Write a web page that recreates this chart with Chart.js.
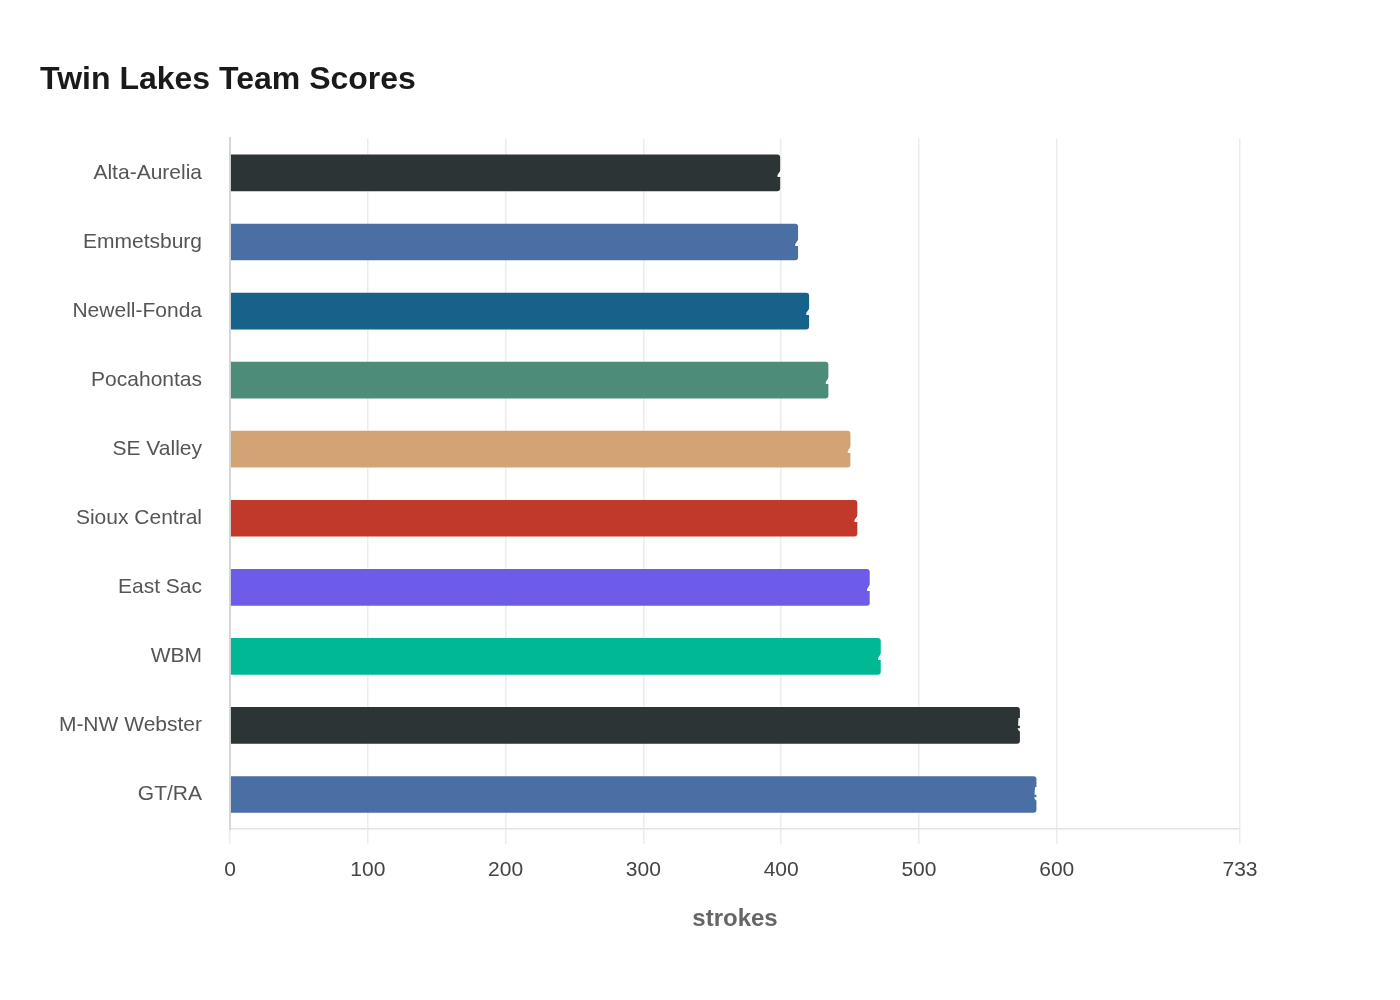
<!DOCTYPE html>
<html>
<head>
<meta charset="utf-8">
<script src="https://cdn.jsdelivr.net/npm/chart.js@4/dist/chart.umd.min.js"></script>
<style>
  html, body { margin: 0; padding: 0; background: #fff; }
  #wrap { width: 1400px; height: 1000px; }
</style>
</head>
<body>
<div id="wrap"><canvas id="scoreChart"></canvas></div>
<script>
// team names, top to bottom
const teams = ['Alta-Aurelia', 'Emmetsburg', 'Newell-Fonda', 'Pocahontas', 'SE Valley',
  'Sioux Central', 'East Sac', 'WBM', 'M-NW Webster', 'GT/RA'];
// total strokes per team
const strokes = [400, 413, 421, 435, 451, 456, 465, 473, 574, 586];
// bar colours
const barColors = ['#2d3436', '#4a6fa5', '#17628a', '#4e8c7a', '#d4a373',
  '#c0392b', '#6c5ce7', '#00b894', '#2d3436', '#4a6fa5'];
// x axis ticks
const xTicks = [0, 100, 200, 300, 400, 500, 600, 733];

const ctx = document.getElementById('scoreChart').getContext('2d');
const FONT = '"Liberation Sans", Arial, sans-serif';

// white value labels sitting on the end of each bar
const endLabels = {
  id: 'endLabels',
  afterDatasetsDraw(chart) {
    const c = chart.ctx;
    const meta = chart.getDatasetMeta(0);
    c.save();
    c.font = 'bold 21px ' + FONT;
    c.fillStyle = '#ffffff';
    c.textAlign = 'left';
    c.textBaseline = 'middle';
    meta.data.forEach((bar, i) => {
      c.fillText(String(strokes[i]), bar.x - 4, bar.y + 1);
    });
    c.restore();
  }
};

const config = {
  type: 'bar',
  data: {
    labels: teams,
    datasets: [{
      label: 'strokes',
      data: strokes,
      backgroundColor: barColors,
      borderColor: 'rgba(255,255,255,0.35)',
      borderWidth: 1,
      borderRadius: 4,
      borderSkipped: 'start',
      barPercentage: 0.56,
      categoryPercentage: 1
    }]
  },
  options: {
    indexAxis: 'y',
    responsive: true,
    maintainAspectRatio: false,
    animation: false,
    layout: { padding: { left: 40, right: 160, top: 40, bottom: 62 } },
    plugins: {
      legend: { display: false },
      tooltip: { enabled: false },
      title: {
        display: true,
        text: 'Twin Lakes Team Scores',
        align: 'start',
        color: '#1a1a1a',
        font: { family: FONT, size: 32, weight: 'bold' },
        padding: { top: 21, bottom: 39 }
      }
    },
    scales: {
      x: {
        min: 0,
        max: 733,
        afterBuildTicks(scale) {
          scale.ticks = xTicks.map(v => ({ value: v }));
        },
        grid: { color: '#ececec', lineWidth: 1.5, tickLength: 15 },
        border: { color: '#e4e4e4', width: 1.5 },
        ticks: {
          color: '#444',
          padding: 14,
          maxRotation: 0,
          font: { family: FONT, size: 21 }
        },
        title: {
          display: true,
          text: 'strokes',
          color: '#666',
          padding: { top: 8 },
          font: { family: FONT, size: 24, weight: 'bold' }
        }
      },
      y: {
        afterFit(scale) { scale.width = 190; },
        grid: { display: false, drawTicks: false },
        border: { color: '#d4d8d8', width: 2 },
        ticks: {
          color: '#555',
          padding: 28,
          font: { family: FONT, size: 21 }
        }
      }
    }
  },
  plugins: [endLabels]
};

const myChart = new Chart(ctx, config);
</script>
</body>
</html>
